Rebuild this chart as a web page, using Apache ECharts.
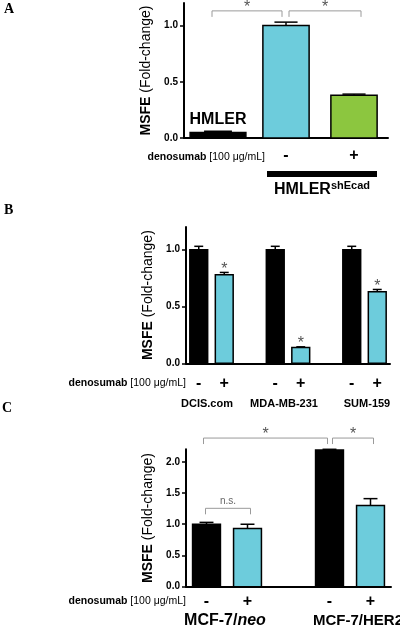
<!DOCTYPE html>
<html><head><meta charset="utf-8">
<script src="https://cdn.jsdelivr.net/npm/echarts@6/dist/echarts.min.js"></script>
<style>html,body{margin:0;padding:0;background:#fff}#c{width:400px;height:633px}</style>
</head><body><div id="c"></div>
<script>
// ---------------- data ----------------
const A_categories = ['HMLER', 'HMLER-shEcad -', 'HMLER-shEcad +'];
const A_treatment = ['', '-', '+'];
const A_values = [0.05, 1.00, 0.38];
const A_errors = [0.01, 0.03, 0.01];
const A_sig = [[0, 1, '*'], [1, 2, '*']];

const B_groups = ['DCIS.com', 'MDA-MB-231', 'SUM-159'];
const B_categories = ['DCIS.com -', 'DCIS.com +', 'gap1', 'MDA-MB-231 -', 'MDA-MB-231 +', 'gap2', 'SUM-159 -', 'SUM-159 +'];
const B_treatment = ['-', '+', '', '-', '+', '', '-', '+'];
const B_values = [1.00, 0.78, null, 1.00, 0.14, null, 1.00, 0.63];
const B_errors = [0.03, 0.02, null, 0.03, 0.005, null, 0.03, 0.02];
const B_sig = ['', '*', '', '', '*', '', '', '*'];

const C_groups = ['MCF-7/neo', 'MCF-7/HER2'];
const C_categories = ['MCF-7/neo -', 'MCF-7/neo +', 'gap', 'MCF-7/HER2 -', 'MCF-7/HER2 +'];
const C_treatment = ['-', '+', '', '-', '+'];
const C_values = [1.00, 0.93, null, 2.19, 1.30];
const C_errors = [0.03, 0.07, null, 0.01, 0.11];
const C_sig = [[0, 1, 'n.s.'], [0, 3, '*'], [3, 4, '*']];

const Y_ticksAB = [0, 0.5, 1.0];
const Y_ticksC = [0, 0.5, 1.0, 1.5, 2.0];
const denoLabel = '{b|denosumab} [100 \u03bcg/mL]';

// ---------------- styles ----------------
const FONT = '"Liberation Sans", Arial, Helvetica, sans-serif';
const BLACK = '#000000', CYAN = '#6dccdc', GREEN = '#8cc63f';
const STAR = '#555555';
const A_colors = [BLACK, CYAN, GREEN];
const B_colors = [BLACK, CYAN, null, BLACK, CYAN, null, BLACK, CYAN];
const C_colors = [BLACK, CYAN, null, BLACK, CYAN];
const A_fracs = [0.82, 0.68, 0.68];
const B_fracs = B_categories.map(() => 0.7);
const C_fracs = C_categories.map(() => 0.68);
const A_bracketLevels = [1.13, 1.13];
const A_bracketInset = [[-6, -4], [3, 7]];
const C_bracketLevels = [1.255, 2.38, 2.38];
const C_bracketInset = [[-1, 3], [-3, -2], [3, 3]];

function barSeries(idx, values, errors, colors, fracs, marks) {
  return {
    type: 'custom', xAxisIndex: idx, yAxisIndex: idx, clip: false, silent: true,
    data: values.map((v, i) => v == null ? [i, '-', '-'] : [i, v, errors[i]]),
    encode: { x: 0, y: 1 },
    renderItem: function (params, api) {
      const i = api.value(0), v = api.value(1), e = api.value(2);
      if (isNaN(v)) return null;
      const band = api.size([1, 0])[0];
      const w = band * fracs[i];
      const top = api.coord([i, v]);
      const base = api.coord([i, 0]);
      const et = api.coord([i, v + e]);
      const ch = [
        { type: 'line', shape: { x1: top[0], y1: top[1], x2: et[0], y2: et[1] }, style: { stroke: '#000', lineWidth: 1.5 } },
        { type: 'line', shape: { x1: top[0] - w * 0.25, y1: et[1], x2: top[0] + w * 0.25, y2: et[1] }, style: { stroke: '#000', lineWidth: 1.5 } },
        { type: 'rect', shape: { x: top[0] - w / 2, y: top[1], width: w, height: base[1] - top[1] }, style: { fill: colors[i], stroke: '#000', lineWidth: 1.5 } }
      ];
      if (marks && marks[i]) {
        ch.push({ type: 'text', x: top[0], y: et[1] - 3, style: { text: marks[i], fill: STAR, font: '16px ' + FONT, align: 'center', verticalAlign: 'middle' } });
      }
      return { type: 'group', children: ch };
    }
  };
}

function bracketSeries(idx, sig, levels, insets) {
  return {
    type: 'custom', xAxisIndex: idx, yAxisIndex: idx, clip: false, silent: true,
    data: sig.map((s, k) => [s[0], s[1], levels[k]]),
    encode: { x: [0, 1], y: 2 },
    renderItem: function (params, api) {
      const k = params.dataIndex;
      const p0 = api.coord([api.value(0), api.value(2)]);
      const p1 = api.coord([api.value(1), api.value(2)]);
      const x0 = p0[0] + insets[k][0], x1 = p1[0] + insets[k][1], y = p0[1];
      const t = sig[k][2];
      const isNS = t !== '*';
      return { type: 'group', children: [
        { type: 'polyline', shape: { points: [[x0, y + 6], [x0, y], [x1, y], [x1, y + 6]] }, style: { stroke: '#9a9a9a', lineWidth: 1, fill: null } },
        { type: 'text', x: (x0 + x1) / 2, y: isNS ? y - 7 : y - 3, style: { text: t, fill: isNS ? '#666' : STAR, font: (isNS ? '10px ' : '16px ') + FONT, align: 'center', verticalAlign: 'middle' } }
      ] };
    }
  };
}

function xAxis(idx, cats, treat, margin) {
  return {
    type: 'category', gridIndex: idx, data: cats,
    axisLine: { lineStyle: { color: '#000', width: 2 } }, axisTick: { show: false },
    axisLabel: { interval: 0, margin: margin, formatter: (v, i) => treat[i], color: '#000', fontSize: 16, fontWeight: 'bold', fontFamily: FONT },
    splitLine: { show: false }
  };
}
function yAxis(idx, max, ticks, gap) {
  return {
    type: 'value', gridIndex: idx, min: 0, max: max, interval: 0.5,
    axisLine: { show: true, lineStyle: { color: '#000', width: 2 } },
    axisTick: { show: true, length: 4, customValues: ticks, lineStyle: { color: '#000', width: 1.5 } },
    axisLabel: { customValues: ticks, formatter: v => v.toFixed(1), color: '#000', fontSize: 10, fontWeight: 'bold', fontFamily: FONT, margin: 6 },
    splitLine: { show: false },
    name: '{b|MSFE} (Fold-change)', nameLocation: 'middle', nameGap: gap,
    nameTextStyle: { fontSize: 14, fontFamily: FONT, color: '#000', rich: { b: { fontSize: 14, fontWeight: 'bold', fontFamily: FONT, color: '#000' } } }
  };
}

function txt(x, y, text, font, align, rich) {
  const st = { text: text, font: font, fill: '#000', align: align || 'center', verticalAlign: 'middle' };
  if (rich) st.rich = rich;
  return { type: 'text', x: x, y: y, style: st, silent: true };
}
const denoRich = { b: { font: 'bold 10.5px ' + FONT, fill: '#000' } };

const chart = echarts.init(document.getElementById('c'), null, { renderer: 'canvas' });
chart.setOption({
  animation: false,
  backgroundColor: '#fff',
  grid: [
    { left: 184, top: 3, width: 204, height: 135 },
    { left: 186, top: 227, width: 204, height: 136.3 },
    { left: 186, top: 449.3, width: 205, height: 137.4 }
  ],
  xAxis: [xAxis(0, A_categories, A_treatment, 10), xAxis(1, B_categories, B_treatment, 12), xAxis(2, C_categories, C_treatment, 7)],
  yAxis: [yAxis(0, 1.2, Y_ticksAB, 26), yAxis(1, 1.2, Y_ticksAB, 26), yAxis(2, 2.2, Y_ticksC, 26)],
  series: [
    barSeries(0, A_values, A_errors, A_colors, A_fracs, null),
    bracketSeries(0, A_sig, A_bracketLevels, A_bracketInset),
    barSeries(1, B_values, B_errors, B_colors, B_fracs, B_sig),
    barSeries(2, C_values, C_errors, C_colors, C_fracs, null),
    bracketSeries(2, C_sig, C_bracketLevels, C_bracketInset)
  ],
  graphic: [
    txt(4, 9, 'A', 'bold 14px "Liberation Serif", serif', 'left'),
    txt(4, 210, 'B', 'bold 14px "Liberation Serif", serif', 'left'),
    txt(2, 408, 'C', 'bold 14px "Liberation Serif", serif', 'left'),
    txt(218, 120, 'HMLER', 'bold 16px ' + FONT),
    txt(265, 157, denoLabel, '10.5px ' + FONT, 'right', denoRich),
    { type: 'rect', shape: { x: 267, y: 171, width: 110, height: 6 }, style: { fill: '#000' }, silent: true },
    txt(322, 189, '{h|HMLER}{s|shEcad}', 'bold 16px ' + FONT, 'center', {
      h: { font: 'bold 16px ' + FONT, fill: '#000', verticalAlign: 'bottom' },
      s: { font: 'bold 11px ' + FONT, fill: '#000', verticalAlign: 'top', padding: [0, 0, 6, 0] }
    }),
    txt(186, 383, denoLabel, '10.5px ' + FONT, 'right', denoRich),
    txt(207, 403.5, B_groups[0], 'bold 11px ' + FONT),
    txt(284, 403.5, B_groups[1], 'bold 11px ' + FONT),
    txt(367, 403.5, B_groups[2], 'bold 11px ' + FONT),
    txt(186, 601.5, denoLabel, '10.5px ' + FONT, 'right', denoRich),
    txt(225, 621, '{n|MCF-7/}{i|neo}', 'bold 16px ' + FONT, 'center', {
      n: { font: 'bold 16px ' + FONT, fill: '#000' },
      i: { font: 'italic bold 16px ' + FONT, fill: '#000' }
    }),
    txt(313, 621, C_groups[1], 'bold 15px ' + FONT, 'left')
  ]
});
</script></body></html>
